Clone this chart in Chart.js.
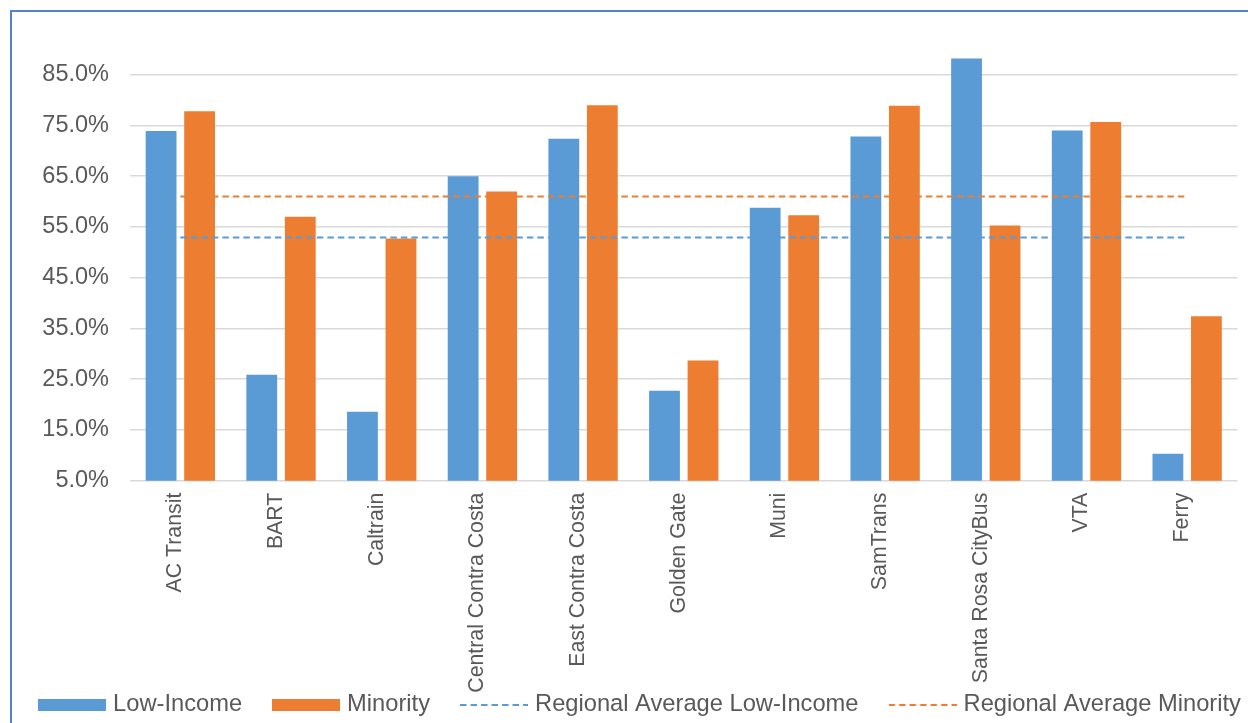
<!DOCTYPE html>
<html>
<head>
<meta charset="utf-8">
<script src="https://cdn.jsdelivr.net/npm/chart.js@4.4.1/dist/chart.umd.min.js"></script>
<style>
  html, body { margin: 0; padding: 0; background: #fff; overflow: hidden; }
  #frame {
    position: absolute; left: 10px; top: 10px; width: 1300px; height: 800px;
    border-top: 2px solid #5283C7; border-left: 2px solid #5283C7;
  }
  #wrap { position: absolute; left: 0; top: 0; width: 1248px; height: 740px; }
</style>
</head>
<body>
<div id="frame"></div>
<div id="wrap"><canvas id="chart"></canvas></div>
<script>
// ── Data ─────────────────────────────────────────────────────
const operators = [
  'AC Transit', 'BART', 'Caltrain', 'Central Contra Costa', 'East Contra Costa',
  'Golden Gate', 'Muni', 'SamTrans', 'Santa Rosa CityBus', 'VTA', 'Ferry',
];
const lowIncome = [73.9, 25.9, 18.6, 65.0, 72.4, 22.7, 58.8, 72.8, 88.2, 74.0, 10.3];
const minority  = [77.8, 57.0, 52.7, 62.0, 79.0, 28.7, 57.3, 78.9, 55.3, 75.7, 37.4];
const avgLowIncome = [52.9, 52.9, 52.9, 52.9, 52.9, 52.9, 52.9, 52.9, 52.9, 52.9, 52.9];
const avgMinority  = [61.0, 61.0, 61.0, 61.0, 61.0, 61.0, 61.0, 61.0, 61.0, 61.0, 61.0];
const yTicks = [5, 15, 25, 35, 45, 55, 65, 75, 85];

// ── Style ────────────────────────────────────────────────────
const BLUE   = '#5B9BD5';
const ORANGE = '#ED7D31';
const TEXT   = '#595959';
const FONT   = '"Liberation Sans", Arial, sans-serif';
const DASH   = [6.5, 4];
const KEY_W  = 68;   // drawn key width
const BOX_W  = 58.3; // legend slot width (key overhangs it so text sits close)

// Legend keys drawn as small canvases (bars = filled box, averages = dashed line)
function boxKey(color) {
  const c = document.createElement('canvas');
  c.width = KEY_W; c.height = 12;
  const g = c.getContext('2d');
  g.fillStyle = color;
  g.fillRect(0, 0, KEY_W, 12);
  return c;
}
function dashKey(color) {
  const c = document.createElement('canvas');
  c.width = KEY_W; c.height = 2;
  const g = c.getContext('2d');
  g.strokeStyle = color;
  g.lineWidth = 2;
  g.setLineDash(DASH);
  g.beginPath(); g.moveTo(0, 1); g.lineTo(KEY_W, 1); g.stroke();
  return c;
}
const keys = [boxKey(BLUE), boxKey(ORANGE), dashKey(BLUE), dashKey(ORANGE)];

// Layout tweaks:
//  - x tick labels are clipped to the scale box, so let them run down over the legend band
//  - give the legend a little extra room when it decides where to wrap (keeps one row)
//  - widen the legend box to the right so the row sits where the original one does
const tweakLayout = {
  id: 'tweakLayout',
  beforeLayout(chart) {
    const lg = chart.legend;
    if (lg && !lg._wide) {
      const fit = lg.fit;
      lg.fit = function () { this.maxWidth += 80; fit.call(this); };
      lg._wide = true;
    }
  },
  afterLayout(chart) {
    chart.scales.x.bottom = chart.height;
    chart.legend.right += 46.35;
  },
};

new Chart(document.getElementById('chart'), {
  data: {
    labels: operators,
    datasets: [
      { type: 'bar', label: 'Low-Income', data: lowIncome, backgroundColor: BLUE, order: 2,
        barPercentage: 0.8, categoryPercentage: 0.765 },
      { type: 'bar', label: 'Minority', data: minority, backgroundColor: ORANGE, order: 2,
        barPercentage: 0.8, categoryPercentage: 0.765 },
      { type: 'line', label: 'Regional Average Low-Income', data: avgLowIncome, order: 1,
        borderColor: BLUE, backgroundColor: BLUE, borderWidth: 2, borderDash: DASH,
        pointRadius: 0, fill: false },
      { type: 'line', label: 'Regional Average Minority', data: avgMinority, order: 1,
        borderColor: ORANGE, backgroundColor: ORANGE, borderWidth: 2, borderDash: DASH,
        pointRadius: 0, fill: false },
    ],
  },
  options: {
    responsive: true,
    maintainAspectRatio: false,
    animation: false,
    layout: { padding: { left: 0, top: 49.3, right: 10.5, bottom: 13.65 } },
    scales: {
      x: {
        grid: { display: false, drawTicks: false },
        border: { display: false },
        ticks: {
          autoSkip: false, maxRotation: 90, minRotation: 90, padding: 12, labelOffset: -5,
          color: TEXT, font: { family: FONT, size: 21.3 },
        },
        afterFit: (s) => { s.height = 177.1; },
      },
      y: {
        min: 5, max: 90,
        ticks: {
          stepSize: 10, padding: 21, color: TEXT,
          font: { family: FONT, size: 23.5 },
          callback: (v) => v.toFixed(1) + '%',
        },
        afterBuildTicks: (s) => { s.ticks = yTicks.map(v => ({ value: v })); },
        grid: { color: '#D9D9D9', lineWidth: 1.5, drawTicks: false },
        border: { display: false },
        afterFit: (s) => { s.width = 130; },
      },
    },
    plugins: {
      tooltip: { enabled: false },
      legend: {
        position: 'bottom',
        labels: {
          color: TEXT, font: { family: FONT, size: 23.7 },
          boxWidth: BOX_W, boxHeight: 12, padding: 34.85,
          usePointStyle: true, pointStyleWidth: BOX_W,
          sort: (a, b) => a.datasetIndex - b.datasetIndex,
          generateLabels: (chart) => {
            const items = Chart.defaults.plugins.legend.labels.generateLabels(chart);
            items.forEach(it => { it.pointStyle = keys[it.datasetIndex]; });
            return items;
          },
        },
      },
    },
  },
  plugins: [tweakLayout],
});
</script>
</body>
</html>
